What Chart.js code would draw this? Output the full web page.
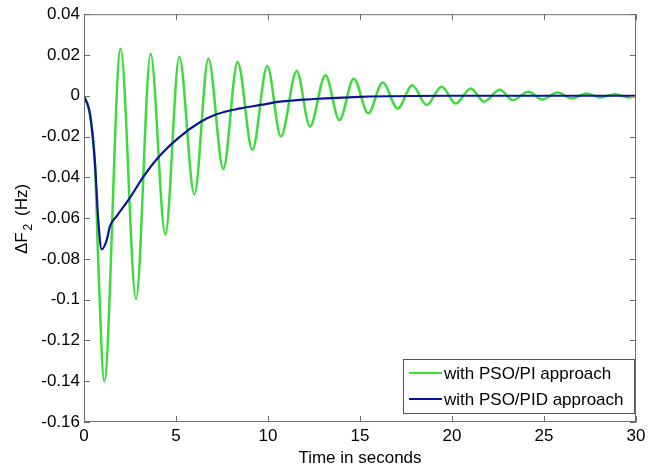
<!DOCTYPE html>
<html>
<head>
<meta charset="utf-8">
<script src="https://cdn.jsdelivr.net/npm/chart.js@4.4.0/dist/chart.umd.min.js"></script>
<style>
  body { margin: 0; background: #fff; }
  canvas { display: block; }
</style>
</head>
<body>
<canvas id="mychart" width="662" height="470"></canvas>
<script>
// values (time in s, deviation in Hz)
var piTime = [0, 0.33, 0.6, 0.78, 1.1, 1.99, 2.83, 3.62, 4.42, 5.18, 6.0, 6.76, 7.57, 8.35, 9.15, 9.96, 10.7,
  11.56, 12.28, 13.12, 13.88, 14.66, 15.45, 16.23, 17.05, 17.84, 18.62, 19.44, 20.2, 21.02, 21.74,
  22.6, 23.3, 24.15, 24.9, 25.74, 26.5, 27.32, 28.04, 28.86, 29.6, 30];
var piValues = [0, -0.0094, -0.034, -0.083, -0.14, 0.0231, -0.0997, 0.0206, -0.068, 0.019, -0.0484, 0.0182, -0.0358,
  0.0166, -0.0265, 0.0146, -0.020, 0.0122, -0.0151, 0.0101, -0.0119, 0.0084, -0.0086, 0.0065, -0.0062,
  0.0052, -0.0045, 0.0044, -0.0038, 0.0036, -0.0029, 0.0029, -0.0021, 0.002, -0.0018, 0.0016, -0.0013,
  0.0011, -0.0008, 0.0008, -0.0008, -0.0003];

var pidTime = [0, 0.33, 0.6, 0.78, 0.96, 1.23, 1.41, 1.78, 2.5, 3.22, 4.13, 5.22, 6.3, 7.2, 8.5, 9.6, 10.65,
  12.46, 15, 20, 25, 30];
var pidValues = [0, -0.0094, -0.0338, -0.0615, -0.0753, -0.071, -0.064, -0.059, -0.05, -0.0398, -0.0293, -0.02,
  -0.013, -0.0091, -0.0062, -0.0045, -0.0029, -0.0016, -0.0005, 0, 0, 0];

var seriesNames = ["with PSO/PI approach", "with PSO/PID approach"];
var xTicks = [0, 5, 10, 15, 20, 25, 30];
var yTicks = [0.04, 0.02, 0, -0.02, -0.04, -0.06, -0.08, -0.1, -0.12, -0.14, -0.16];

var FONT = "'Liberation Sans', Arial, sans-serif";
var BOX = "#6e6e6e";

function toPoints(t, v) {
  return t.map(function(tt, i) { return { x: tt, y: v[i] }; });
}

// matlab style box with inward ticks, y title and legend
var matlabBox = {
  id: "matlabBox",
  afterDraw: function(chart) {
    var c = chart.ctx, a = chart.chartArea;
    var xs = chart.scales.x, ys = chart.scales.y;
    c.save();
    c.strokeStyle = BOX;
    c.lineWidth = 1;
    c.strokeRect(a.left + 0.5, a.top + 0.5, a.right - a.left - 1, a.bottom - a.top - 1);
    c.beginPath();
    xTicks.forEach(function(t) {
      var px = Math.round(xs.getPixelForValue(t)) + 0.5;
      c.moveTo(px, a.bottom); c.lineTo(px, a.bottom - 6);
      c.moveTo(px, a.top); c.lineTo(px, a.top + 6);
    });
    yTicks.forEach(function(t) {
      var py = Math.round(ys.getPixelForValue(t)) + 0.5;
      c.moveTo(a.left, py); c.lineTo(a.left + 6, py);
      c.moveTo(a.right, py); c.lineTo(a.right - 6, py);
    });
    c.stroke();

    // y title with subscript
    c.translate(22, 219);
    c.rotate(-Math.PI / 2);
    c.fillStyle = "#000";
    c.textBaseline = "middle";
    c.textAlign = "left";
    var big = "17px " + FONT, small = "12px " + FONT;
    c.font = big;
    var w1 = c.measureText("\u0394F").width;
    var w3 = c.measureText(" (Hz)").width;
    c.font = small;
    var w2 = c.measureText("2").width;
    var x0 = -(w1 + w2 + w3 + 5) / 2;
    c.font = big;
    c.fillText("\u0394F", x0, 0);
    c.font = small;
    c.fillText("2", x0 + w1 + 2, 7);
    c.font = big;
    c.fillText(" (Hz)", x0 + w1 + w2 + 5, 0);
    c.setTransform(1, 0, 0, 1, 0, 0);

    // legend
    var lx = 403, ly = 359, lw = 231, lh = 54;
    c.fillStyle = "#fff";
    c.fillRect(lx, ly, lw, lh);
    c.strokeStyle = "#555";
    c.strokeRect(lx + 0.5, ly + 0.5, lw, lh);
    chart.data.datasets.forEach(function(ds, i) {
      var yy = ly + 14 + i * 26;
      c.strokeStyle = ds.borderColor;
      c.lineWidth = 2;
      c.beginPath();
      c.moveTo(lx + 6, yy); c.lineTo(lx + 39, yy);
      c.stroke();
      c.fillStyle = "#000";
      c.font = "17px " + FONT;
      c.textBaseline = "middle";
      c.fillText(ds.label, lx + 41, yy + 1);
    });
    c.restore();
  }
};

var ctx = document.querySelector("#mychart").getContext("2d");
var chart = new Chart(ctx, {
  type: "line",
  data: {
    datasets: [{
      label: seriesNames[0],
      data: toPoints(piTime, piValues),
      borderColor: "#3cdc3c",
      borderWidth: 2.5,
      pointRadius: 0,
      cubicInterpolationMode: "monotone",
      order: 2
    }, {
      label: seriesNames[1],
      data: toPoints(pidTime, pidValues),
      borderColor: "#0a1496",
      borderWidth: 2.2,
      pointRadius: 0,
      cubicInterpolationMode: "monotone",
      order: 1
    }]
  },
  options: {
    responsive: false,
    animation: false,
    devicePixelRatio: 1,
    layout: { padding: { top: 12, right: 26, left: 0, bottom: 0 } },
    plugins: {
      legend: { display: false },
      tooltip: { enabled: false }
    },
    scales: {
      x: {
        type: "linear",
        min: 0,
        max: 30,
        grid: { display: false, drawTicks: false },
        border: { display: false },
        afterBuildTicks: function(s) { s.ticks = xTicks.map(function(v) { return { value: v }; }); },
        afterFit: function(s) { s.height = 48; },
        ticks: { color: "#000", padding: 4, font: { family: FONT, size: 17 }, maxRotation: 0 },
        title: {
          display: true,
          text: "Time in seconds",
          color: "#000",
          font: { family: FONT, size: 17 },
          padding: { top: 0, bottom: 1 }
        }
      },
      y: {
        min: -0.16,
        max: 0.04,
        grid: { display: false, drawTicks: false },
        border: { display: false },
        afterBuildTicks: function(s) { s.ticks = yTicks.map(function(v) { return { value: v }; }); },
        afterFit: function(s) { s.width = 84; },
        ticks: {
          color: "#000",
          padding: 4,
          font: { family: FONT, size: 17 },
          callback: function(v) { return String(parseFloat(Number(v).toFixed(2))); }
        }
      }
    }
  },
  plugins: [matlabBox]
});
</script>
</body>
</html>
